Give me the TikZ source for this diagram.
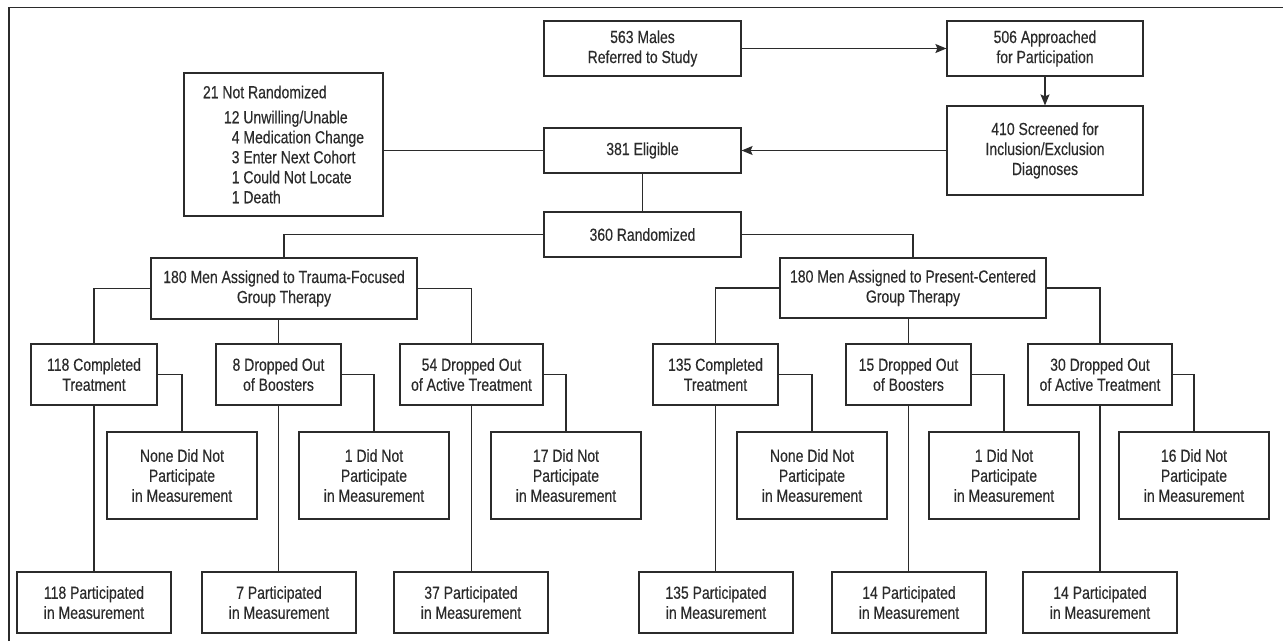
\documentclass[tikz,border=0pt]{standalone}
\usepackage{fontspec}
\setmainfont{Liberation Sans}[FakeStretch=0.8, FakeBold=0.35]
\usepackage{xcolor}
\usetikzlibrary{arrows.meta}

\definecolor{ink}{HTML}{2B2B2B}
\tikzset{
	box/.style={draw=ink, text=ink, line width=1.2pt, align=center, inner sep=0pt,
		font=\fontsize{17.5}{20}\selectfont},
	link/.style={draw=ink, line width=1.2pt},
	arr/.style={link, -{Stealth[length=11pt,width=9pt,inset=2pt]}}
}

\begin{document}
\begin{tikzpicture}[x=1pt, y=-1pt]
	\useasboundingbox (0,0) rectangle (1283,641);
	\draw[link] (9,641) |- (1283,7.5);

	% screening
	\node[box, minimum width=197, minimum height=55] (ref) at (642.5,48.5) {563 Males\\Referred to Study};
	\node[box, minimum width=196, minimum height=55] (appr) at (1045,48.5) {506 Approached\\for Participation};
	\node[box, minimum width=196, minimum height=89] (scr) at (1045,150.5) {410 Screened for\\Inclusion/Exclusion\\Diagnoses};
	\node[box, minimum width=197, minimum height=45] (elig) at (642.5,150.5) {381 Eligible};
	\node[box, minimum width=199, minimum height=143, align=left] (notr) at (283.5,144.5)
		{21 Not Randomized\\[5pt]
		\hspace*{21pt}12 Unwilling/Unable\\
		\hspace*{21pt}\phantom{1}4 Medication Change\\
		\hspace*{21pt}\phantom{1}3 Enter Next Cohort\\
		\hspace*{21pt}\phantom{1}1 Could Not Locate\\
		\hspace*{21pt}\phantom{1}1 Death};
	\node[box, minimum width=197, minimum height=45] (rand) at (642.5,234.5) {360 Randomized};

	% groups
	\node[box, minimum width=266, minimum height=61] (tfg) at (284,288.5) {180 Men Assigned to Trauma-Focused\\Group Therapy};
	\node[box, minimum width=266, minimum height=60] (pcg) at (913,288) {180 Men Assigned to Present-Centered\\Group Therapy};

	% treatment outcome
	\node[box, minimum width=126, minimum height=61] (tcomp) at (94,374.5) {118 Completed\\Treatment};
	\node[box, minimum width=125, minimum height=61] (tboost) at (278.5,374.5) {8 Dropped Out\\of Boosters};
	\node[box, minimum width=143, minimum height=61] (tact) at (471.5,374.5) {54 Dropped Out\\of Active Treatment};
	\node[box, minimum width=125, minimum height=61] (pcomp) at (715.5,374.5) {135 Completed\\Treatment};
	\node[box, minimum width=125, minimum height=61] (pboost) at (908.5,374.5) {15 Dropped Out\\of Boosters};
	\node[box, minimum width=144, minimum height=61] (pact) at (1100,374.5) {30 Dropped Out\\of Active Treatment};

	% not measured
	\node[box, minimum width=150, minimum height=87] (tnone) at (182,475.5) {None Did Not\\Participate\\in Measurement};
	\node[box, minimum width=150, minimum height=87] (tboostno) at (374,475.5) {1 Did Not\\Participate\\in Measurement};
	\node[box, minimum width=150, minimum height=87] (tactno) at (566,475.5) {17 Did Not\\Participate\\in Measurement};
	\node[box, minimum width=150, minimum height=87] (pnone) at (812,475.5) {None Did Not\\Participate\\in Measurement};
	\node[box, minimum width=150, minimum height=87] (pboostno) at (1004,475.5) {1 Did Not\\Participate\\in Measurement};
	\node[box, minimum width=150, minimum height=87] (pactno) at (1194,475.5) {16 Did Not\\Participate\\in Measurement};

	% measured
	\node[box, minimum width=154, minimum height=61] (tcompyes) at (94,602.5) {118 Participated\\in Measurement};
	\node[box, minimum width=154, minimum height=61] (tboostyes) at (279,602.5) {7 Participated\\in Measurement};
	\node[box, minimum width=154, minimum height=61] (tactyes) at (471,602.5) {37 Participated\\in Measurement};
	\node[box, minimum width=154, minimum height=61] (pcompyes) at (716,602.5) {135 Participated\\in Measurement};
	\node[box, minimum width=154, minimum height=61] (pboostyes) at (909,602.5) {14 Participated\\in Measurement};
	\node[box, minimum width=154, minimum height=61] (pactyes) at (1100,602.5) {14 Participated\\in Measurement};

	% connectors
	\draw[arr] (ref) -- (appr);
	\draw[arr] (appr) -- (scr);
	\draw[arr] (scr) -- (elig);
	\draw[link] (elig.west) -- (elig.west -| notr.east);
	\draw[link] (elig) -- (rand);
	\draw[link] (rand.west) -| (tfg.north);
	\draw[link] (rand.east) -| (pcg.north);

	\draw[link] (tfg.west) -| (tcomp.north);
	\draw[link] (tboost.north) -- (tboost.north |- tfg.south);
	\draw[link] (tfg.east) -| (tact.north);
	\draw[link] (pcg.west) -| (pcomp.north);
	\draw[link] (pboost.north) -- (pboost.north |- pcg.south);
	\draw[link] (pcg.east) -| (pact.north);

	\draw[link] (tcomp.east) -| (tnone.north);
	\draw[link] (tboost.east) -| (tboostno.north);
	\draw[link] (tact.east) -| (tactno.north);
	\draw[link] (pcomp.east) -| (pnone.north);
	\draw[link] (pboost.east) -| (pboostno.north);
	\draw[link] (pact.east) -| (pactno.north);

	\draw[link] (tcomp) -- (tcompyes);
	\draw[link] (tboost.south) -- (tboost.south |- tboostyes.north);
	\draw[link] (tact.south) -- (tact.south |- tactyes.north);
	\draw[link] (pcomp.south) -- (pcomp.south |- pcompyes.north);
	\draw[link] (pboost.south) -- (pboost.south |- pboostyes.north);
	\draw[link] (pact) -- (pactyes);
\end{tikzpicture}
\end{document}
